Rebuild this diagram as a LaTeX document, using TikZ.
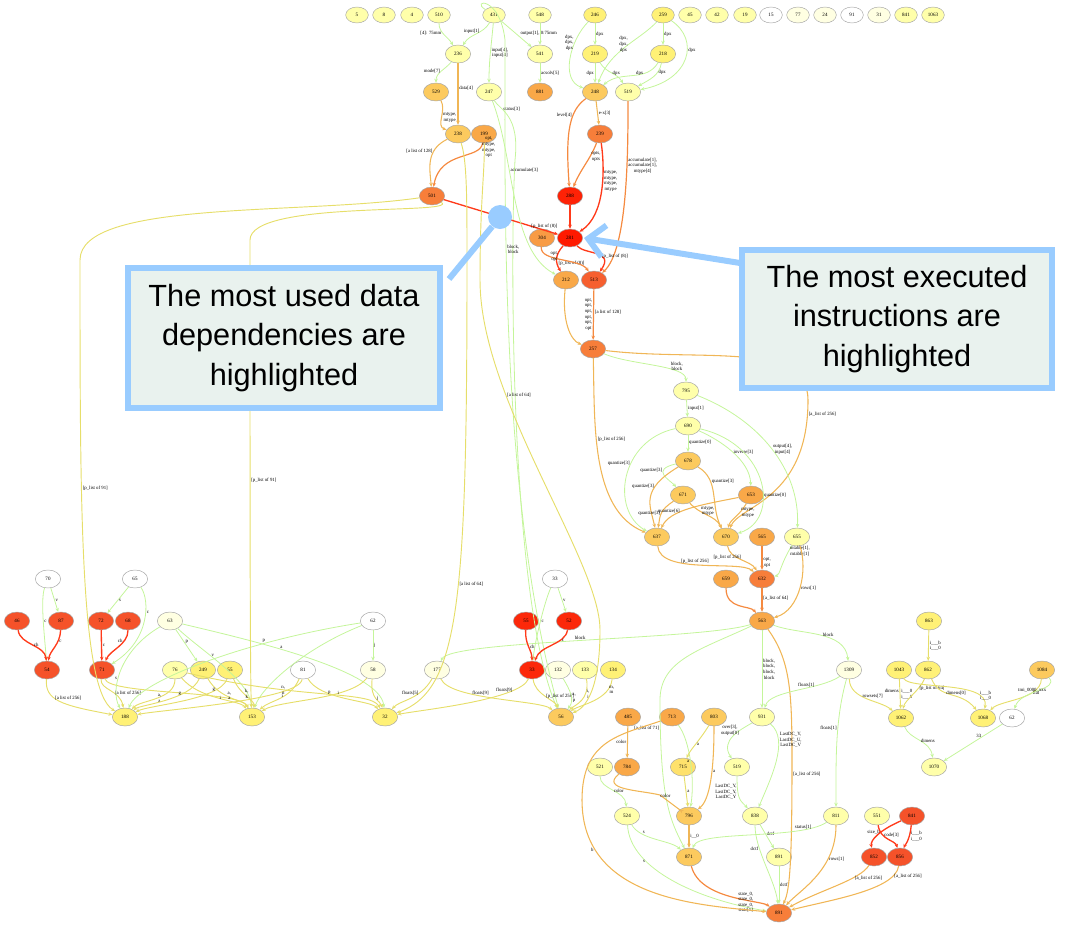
\documentclass[tikz,border=0pt]{standalone}
\usepackage{fontspec}
\setmainfont{Liberation Serif}
\newfontfamily\callfont{Liberation Sans}
\usetikzlibrary{shapes.geometric,arrows.meta}
\definecolor{cW}{HTML}{FFFFFF}
\definecolor{cV}{HTML}{FFFFE2}
\definecolor{cL}{HTML}{FFFFAA}
\definecolor{cY}{HTML}{FFF176}
\definecolor{cA}{HTML}{FCCA5E}
\definecolor{cO}{HTML}{F9A848}
\definecolor{cP}{HTML}{F77E3A}
\definecolor{cR}{HTML}{F5522A}
\definecolor{cX}{HTML}{FF1A00}
\definecolor{eG}{HTML}{C4F59A}
\definecolor{eY}{HTML}{E6DE6A}
\definecolor{eO}{HTML}{F0B656}
\definecolor{eP}{HTML}{F58A40}
\definecolor{eR}{HTML}{FF3A1A}
\definecolor{callB}{HTML}{99CCFF}
\definecolor{callF}{HTML}{E9F2EE}
\tikzset{
  nd/.style={ellipse, draw=black!35, line width=0.35pt, minimum width=19pt, minimum height=13.5pt, inner sep=0pt, font=\fontsize{3.8}{4}\selectfont},
  sm/.style={nd, minimum width=17pt, minimum height=12pt},
  tip/.style={-{Stealth[length=3pt,width=2.6pt]}},
  eg/.style={draw=eG, line width=0.6pt, tip},
  ey/.style={draw=eY, line width=0.7pt, tip},
  eo/.style={draw=eO, line width=0.8pt, tip},
  ep/.style={draw=eP, line width=0.9pt, tip},
  er/.style={draw=eR, line width=1pt, tip},
  el/.style={font=\fontsize{3.6}{4.2}\selectfont, align=center, inner sep=0.6pt},
  callbox/.style={draw=callB, line width=4.5pt, fill=callF, align=center, font=\callfont\fontsize{23}{29.5}\selectfont},
  callline/.style={draw=callB, line width=4.5pt}
}
\begin{document}
\begin{tikzpicture}[x=0.75pt,y=-0.75pt]
\useasboundingbox (0,0) rectangle (1073,925);
% ---------- top row ----------
\node[sm,fill=cL] (t5) at (357,15) {5};
\node[sm,fill=cL] (t8) at (384,15) {8};
\node[sm,fill=cL] (t4) at (412,15) {4};
\node[sm,fill=cL] (t510) at (439,15) {510};
\node[sm,fill=cL] (t431) at (494,15) {431};
\node[sm,fill=cL] (t548) at (540,15) {548};
\node[sm,fill=cY] (t246) at (595,15) {246};
\node[sm,fill=cY] (t259) at (663,15) {259};
\node[sm,fill=cL] (t45) at (690,15) {45};
\node[sm,fill=cL] (t42) at (717,15) {42};
\node[sm,fill=cL] (t19) at (745,15) {19};
\node[sm,fill=cW] (t15) at (771,15) {15};
\node[sm,fill=cV] (t77) at (798,15) {77};
\node[sm,fill=cV] (t24) at (825,15) {24};
\node[sm,fill=cW] (t91) at (852,15) {91};
\node[sm,fill=cV] (t31) at (879,15) {31};
\node[sm,fill=cL] (t841) at (906,15) {841};
\node[sm,fill=cL] (t1063) at (933,15) {1063};
% ---------- upper middle ----------
\node[nd,fill=cL] (n236) at (458,54) {236};
\node[nd,fill=cL] (n541) at (540,54) {541};
\node[nd,fill=cY] (n219) at (595,54) {219};
\node[nd,fill=cY] (n218) at (663,54) {218};
\node[nd,fill=cA] (n529) at (436,92) {529};
\node[nd,fill=cL] (n247) at (489,92) {247};
\node[nd,fill=cO] (n881) at (540,92) {881};
\node[nd,fill=cA] (n248) at (595,92) {248};
\node[nd,fill=cL] (n519) at (628,92) {519};
\node[nd,fill=cA] (n238) at (458,134) {238};
\node[nd,fill=cO] (n199) at (484,134) {199};
\node[nd,fill=cP] (n239) at (600,134) {239};
\node[nd,fill=cP] (n501) at (432,196) {501};
\node[nd,fill=cX!85!cR] (n288) at (570,196) {288};
\node[nd,fill=cO!70!cP] (n304) at (542,238) {304};
\node[nd,fill=cX] (n281) at (570,238) {281};
\node[nd,fill=cO] (n212) at (566,280) {212};
\node[nd,fill=cR!70!cP] (n513) at (594,280) {513};
\node[nd,fill=cP] (n257) at (593,349) {257};
\node[nd,fill=cL] (n795) at (686,391) {795};
\node[nd,fill=cL] (n690) at (688,426) {690};
\node[nd,fill=cA] (n678) at (688,461) {678};
\node[nd,fill=cA] (n671) at (683,495) {671};
\node[nd,fill=cO] (n653) at (751,495) {653};
\node[nd,fill=cA] (n637) at (657,537) {637};
\node[nd,fill=cA] (n670) at (726,537) {670};
\node[nd,fill=cO] (n565) at (762,537) {565};
\node[nd,fill=cL] (n655) at (797,537) {655};
\node[nd,fill=cO] (n659) at (726,579) {659};
\node[nd,fill=cP] (n632) at (762,579) {632};
\node[nd,fill=cO] (n563) at (762,621) {563};
% ---------- lower left ----------
\node[nd,fill=cW] (n70) at (48,579) {70};
\node[nd,fill=cW] (n65) at (135,579) {65};
\node[nd,fill=cR] (n46) at (17,621) {46};
\node[nd,fill=cR] (n87) at (61,621) {87};
\node[nd,fill=cR] (n72) at (101,621) {72};
\node[nd,fill=cR] (n68) at (128,621) {68};
\node[nd,fill=cV] (n63) at (170,621) {63};
\node[nd,fill=cW] (n62a) at (373,621) {62};
\node[nd,fill=cR] (n54) at (47,670) {54};
\node[nd,fill=cR] (n71) at (102,670) {71};
\node[nd,fill=cL] (n76) at (175,670) {76};
\node[nd,fill=cY] (n249) at (203,670) {249};
\node[nd,fill=cY] (n55a) at (230,670) {55};
\node[nd,fill=cW] (n81) at (303,670) {81};
\node[nd,fill=cV] (n58) at (373,670) {58};
\node[nd,fill=cV] (n177) at (437,670) {177};
\node[nd,fill=cW] (n33a) at (555,579) {33};
\node[nd,fill=cX!75!cR] (n55b) at (526,621) {55};
\node[nd,fill=cX!75!cR] (n52) at (569,621) {52};
\node[nd,fill=cX!75!cR] (n33b) at (532,670) {33};
\node[nd,fill=cV] (n132) at (558,670) {132};
\node[nd,fill=cL] (n133) at (585,670) {133};
\node[nd,fill=cY] (n134) at (613,670) {134};
\node[nd,fill=cY] (n188) at (125,717) {188};
\node[nd,fill=cY] (n153) at (252,717) {153};
\node[nd,fill=cY] (n32) at (385,717) {32};
\node[nd,fill=cA] (n56) at (561,717) {56};
% ---------- lower right ----------
\node[nd,fill=cO] (n485) at (628,717) {485};
\node[nd,fill=cO] (n713) at (672,717) {713};
\node[nd,fill=cA] (n803) at (714,717) {803};
\node[nd,fill=cL] (n931) at (762,717) {931};
\node[nd,fill=cL] (n521) at (600,767) {521};
\node[nd,fill=cO] (n784) at (627,767) {784};
\node[nd,fill=cY!60!cA] (n715) at (683,767) {715};
\node[nd,fill=cL] (n519b) at (737,767) {519};
\node[nd,fill=cL] (n524) at (627,816) {524};
\node[nd,fill=cA] (n796) at (689,816) {796};
\node[nd,fill=cL] (n838) at (755,816) {838};
\node[nd,fill=cL] (n811) at (836,816) {811};
\node[nd,fill=cL] (n551) at (877,816) {551};
\node[nd,fill=cR] (n841) at (912,816) {841};
\node[nd,fill=cA] (n871) at (689,857) {871};
\node[nd,fill=cL] (n891a) at (779,857) {891};
\node[nd,fill=cR] (n852) at (874,857) {852};
\node[nd,fill=cR] (n856) at (900,857) {856};
\node[nd,fill=cP] (n891b) at (779,913) {891};
\node[nd,fill=cY] (n863) at (929,621) {863};
\node[nd,fill=cV] (n1309) at (849,670) {1309};
\node[nd,fill=cY] (n1043) at (899,670) {1043};
\node[nd,fill=cY] (n862) at (928,670) {862};
\node[nd,fill=cA] (n1084) at (1042,670) {1084};
\node[nd,fill=cY] (n1062) at (901,718) {1062};
\node[nd,fill=cY] (n1068) at (983,718) {1068};
\node[nd,fill=cW] (n62b) at (1012,718) {62};
\node[nd,fill=cL] (n1070) at (934,767) {1070};
% ---------- edges: top ----------
\draw[eg] (t510) to[out=-90,in=120] node[el,pos=0.4,left]{[4]: 75mm} (n236);
\draw[eg] (t431) to[out=-120,in=60] node[el,pos=0.35,left]{input[1]} (n236);
\draw[eg] (t431) to[out=-95,in=90] node[el,pos=0.5,right]{input[4],\\input[4]} (n247);
\draw[eg] (t431) to[out=-40,in=140] node[el,pos=0.6,above right]{output[1], 0:75mm} (n541);
\draw[eg] (t548) -- (n541);
\draw[eg] (t246) -- node[el,right]{dpx} (n219);
\draw[eg] (t246) .. controls (570,40) and (560,80) .. node[el,pos=0.3,left]{dpx,\\dpx,\\dpx} (n248);
\draw[eg] (t259) .. controls (640,40) and (610,50) .. node[el,pos=0.45,left]{dpx,\\dpx,\\dpx} (n248);
\draw[eg] (t259) -- node[el,right]{dpx} (n218);
\draw[eg] (t259) .. controls (700,40) and (690,80) .. node[el,pos=0.4,right]{dpx} (n519);
\draw[eg] (n219) -- node[el,pos=0.5,left]{dpx} (n248);
\draw[eg] (n219) to[out=-60,in=120] node[el,pos=0.5,right]{dpx} (n519);
\draw[eg] (n218) to[out=-120,in=40] node[el,pos=0.3,left]{dpx} (n248);
\draw[eg] (n218) to[out=-100,in=30] node[el,pos=0.3,right]{dpx} (n519);
\draw[eg] (n236) to[out=-130,in=90] node[el,pos=0.5,left]{mode[7]} (n529);
\draw[eo] (n236) -- node[el,pos=0.4,right]{data[4]} (n238);
\draw[eo] (n529) to[out=-60,in=160] node[el,pos=0.5,right]{mtype,\\mtype} (n238);
\draw[eg] (n541) -- node[el,right]{acsolv[5]} (n881);
\draw[eg] (n247) .. controls (500,110) and (520,115) .. node[el,pos=0.3,right]{status[3]} (515,160) .. controls (510,250) and (510,600) .. (n56);
\draw[eg] (t431) .. controls (470,0) and (500,-5) .. (505,40) .. controls (505,200) and (500,500) .. node[el,pos=0.35,right]{block,\\block} (n56);
\draw[eo] (n238) .. controls (425,150) and (430,170) .. node[el,pos=0.3,left]{[a list of 128]} (n501);
\draw[ep] (n199) .. controls (480,160) and (440,150) .. node[el,pos=0.1,right]{opt,\\mtype,\\mtype,\\opt} (n501);
\draw[ep] (n248) .. controls (570,110) and (565,130) .. node[el,pos=0.35,left]{level[4]} (n288);
\draw[eo] (n248) -- node[el,pos=0.5,right]{e-x[3]} (n239);
\draw[ep] (n239) .. controls (590,160) and (580,170) .. node[el,pos=0.3,right]{opts,\\opts} (n288);
\draw[er] (n239) .. controls (605,170) and (605,215) .. node[el,pos=0.4,right]{mtype,\\mtype,\\mtype,\\mtype} (n281);
\draw[er] (n288) -- (n281);
\draw[ep] (n519) .. controls (628,150) and (628,250) .. node[el,pos=0.35,right]{accumulate[1],\\accumulate[1],\\mtype[4]} (n513);
\draw[er] (n501) -- node[el,pos=0.88,above]{[p\_list of (8)]} (n281);
\draw[eg] (n247) .. controls (515,160) and (510,250) .. node[el,pos=0.35,right]{accumulate[3]} (n212);
\draw[er] (n281) .. controls (585,255) and (615,250) .. node[el,pos=0.6,right]{[p\_list of (8)]} (n513);
\draw[er] (n281) .. controls (555,255) and (555,262) .. node[el,pos=0.7,right]{[p\_list of (8)]} (n212);
\draw[ep] (n304) .. controls (540,262) and (580,258) .. node[el,pos=0.3,right]{opt,\\opt} (n513);
\draw[eo] (n212) .. controls (562,320) and (570,340) .. (n257);
\draw[ep] (n513) -- node[el,pos=0.5,left]{opt,\\opt,\\opt,\\opt,\\opt,\\opt} node[el,pos=0.45,right]{[a list of 128]} (n257);
% ---------- middle cluster ----------
\draw[eg] (n257) .. controls (630,365) and (686,365) .. node[el,pos=0.75,above]{block,\\block} (n795);
\draw[eo] (n257) .. controls (595,420) and (590,510) .. node[el,pos=0.4,right]{[p\_list of 256]} (n637);
\draw[eo] (n257) .. controls (700,362) and (808,340) .. (808,400) .. controls (808,500) and (740,505) .. node[el,pos=0.05,right]{[a\_list of 256]} (n670);
\draw[eg] (n795) -- node[el,right]{input[1]} (n690);
\draw[eg] (n795) .. controls (760,420) and (800,470) .. node[el,pos=0.5,right]{output[4],\\input[4]} (n655);
\draw[eg] (n690) -- node[el,pos=0.4,right]{quantize[0]} (n678);
\draw[eg] (n690) .. controls (620,440) and (610,510) .. node[el,pos=0.4,left]{quantize[3]} (n637);
\draw[eg] (n690) .. controls (720,440) and (750,460) .. node[el,pos=0.5,right]{inverse[3]} (n653);
\draw[eg] (n690) .. controls (770,445) and (780,520) .. node[el,pos=0.6,right]{quantize[0]} (n670);
\draw[eg] (n678) .. controls (650,470) and (670,480) .. node[el,pos=0.3,left]{quantize[3]} (n671);
\draw[eo] (n678) .. controls (640,490) and (650,505) .. node[el,pos=0.3,left]{quantize[3]} (n637);
\draw[eo] (n678) .. controls (720,480) and (710,505) .. node[el,pos=0.3,right]{quantize[3]} (n670);
\draw[eo] (n671) .. controls (660,510) and (660,515) .. node[el,pos=0.5,left]{quantize[3]} (n637);
\draw[eo] (n671) .. controls (700,515) and (715,515) .. node[el,pos=0.3,right]{mtype,\\mtype} (n670);
\draw[eo] (n653) .. controls (740,515) and (730,520) .. node[el,pos=0.3,right]{mtype,\\mtype} (n670);
\draw[eo] (n653) .. controls (700,505) and (670,510) .. node[el,pos=0.6,left]{quantize[6]} (n637);
\draw[eo] (n637) .. controls (660,575) and (740,560) .. node[el,pos=0.45,above]{[p\_list of 256]} (n632);
\draw[eo] (n670) .. controls (730,560) and (750,560) .. node[el,pos=0.55,above left]{[p\_list of 256]} (n632);
\draw[ep] (n565) -- node[el,pos=0.7,right]{opt,\\opt} (n632);
\draw[eg] (n655) .. controls (780,565) and (780,575) .. node[el,pos=0.1,right]{mtable[1],\\mtable[1]} (n632);
\draw[eo] (n655) .. controls (808,570) and (800,610) .. node[el,pos=0.5,right]{rows[1]} (n563);
\draw[ep] (n659) .. controls (726,610) and (750,605) .. (n563);
\draw[ep] (n632) -- node[el,pos=0.4,right]{[a\_list of 64]} (n563);
% ---------- lower right ----------
\draw[eg] (n563) -- node[el,pos=0.5,right]{block,\\block,\\block,\\block} (n931);
\draw[eg] (n563) .. controls (800,635) and (845,630) .. node[el,pos=0.6,above]{block} (n1309);
\draw[eo] (n563) .. controls (790,660) and (792,690) .. (792,760) .. controls (792,860) and (790,890) .. node[el,pos=0.05,right]{[a\_list of 256]} (n891b);
\draw[eg] (n563) .. controls (700,640) and (450,640) .. node[el,pos=0.5,above]{block} (n177);
\draw[eg] (n563) .. controls (700,650) and (660,660) .. (660,700) .. controls (660,800) and (670,820) .. node[el,pos=0.1,left]{[a\_list of 71]} (n871);
\draw[eg] (n1309) .. controls (820,690) and (770,690) .. node[el,pos=0.4,above]{floats[1]} (n931);
\draw[ey] (n1309) .. controls (850,700) and (880,700) .. node[el,pos=0.4,right]{rowsets[7]} (n1062);
\draw[eg] (n1309) .. controls (835,720) and (836,760) .. node[el,pos=0.4,left]{floats[1]} (n811);
\draw[ey] (n863) -- node[el,right]{i\_\_\_b\\i\_\_\_0} (n862);
\draw[ey] (n1043) -- node[el,right]{i\_\_\_0\\i\_\_\_0} node[el,pos=0.4,left]{dimens} (n1062);
\draw[ey] (n862) .. controls (920,690) and (905,700) .. node[el,pos=0.3,right]{[p\_list of 64]} (n1062);
\draw[ey] (n862) .. controls (940,700) and (960,690) .. node[el,pos=0.6,above]{dimens[0]} (n1068);
\draw[ey] (n1043) .. controls (910,690) and (990,680) .. node[el,pos=0.8,right]{i\_\_\_b\\i\_\_\_0} (n1068);
\draw[ey] (n1084) .. controls (1040,700) and (1000,700) .. node[el,pos=0.3,right]{flat} (n1068);
\draw[eg] (n1084) .. controls (1060,690) and (1020,690) .. node[el,pos=0.6,above]{tmi\_0000\_xxx} (n62b);
\draw[eg] (n1062) .. controls (910,740) and (930,740) .. node[el,pos=0.5,right]{dimens} (n1070);
\draw[eg] (n62b) -- node[el,pos=0.4,above]{33} (n1070);
\draw[eg] (n931) .. controls (740,730) and (720,740) .. node[el,pos=0.3,left]{over[3],\\output[0]} (n519b);
\draw[eg] (n931) .. controls (790,740) and (770,780) .. node[el,pos=0.25,right]{LastDC\_Y,\\LastDC\_U,\\LastDC\_V} (n838);
\draw[eg] (n519b) .. controls (737,800) and (740,800) .. node[el,pos=0.3,left]{LastDC\_Y,\\LastDC\_Y,\\LastDC\_Y} (n838);
\draw[eg] (n838) -- node[el,pos=0.4,right]{dctf} (n891a);
\draw[eg] (n838) .. controls (755,850) and (775,880) .. node[el,pos=0.3,left]{dctf} (n891b);
\draw[eg] (n891a) -- node[el,right]{dctf} (n891b);
\draw[eo] (n811) .. controls (836,870) and (800,890) .. node[el,pos=0.3,right]{rows[1]} (n891b);
\draw[eg] (n811) .. controls (800,840) and (700,830) .. node[el,pos=0.2,above]{status[1]} (n871);
\draw[eo] (n485) -- node[el,left]{color} (n784);
\draw[eg] (n713) .. controls (690,740) and (695,780) .. node[el,pos=0.5,left]{a} (n796);
\draw[ey] (n803) .. controls (700,740) and (690,750) .. node[el,pos=0.5,right]{a} (n715);
\draw[eo] (n803) .. controls (714,770) and (710,800) .. node[el,pos=0.4,right]{a} (n796);
\draw[ey] (n715) -- node[el,right]{a} (n796);
\draw[eo] (n784) .. controls (600,790) and (640,790) .. (660,795) .. controls (680,810) .. node[el,pos=0.1,above]{color} (n796);
\draw[eg] (n521) .. controls (600,790) and (625,790) .. node[el,pos=0.5,right]{color} (n524);
\draw[eg] (n524) .. controls (640,840) and (670,840) .. node[el,pos=0.3,above]{s} (n871);
\draw[eg] (n524) .. controls (630,870) and (700,900) .. node[el,pos=0.3,left]{s} (n891b);
\draw[eo] (n796) -- node[el,right]{i\_\_0} (n871);
\draw[ep] (n871) .. controls (700,900) and (760,900) .. node[el,pos=0.75,left]{state\_0,\\state\_0,\\state\_0,\\state[1]} (n891b);
\draw[eo] (n713) .. controls (620,735) and (582,740) .. (582,800) .. controls (582,900) and (700,905) .. node[el,pos=0.2,left]{b} (n891b);
\draw[er] (n841) .. controls (880,830) and (870,840) .. node[el,pos=0.4,left]{size\_b} (n852);
\draw[er] (n841) .. controls (910,840) and (905,845) .. node[el,pos=0.3,right]{i\_\_\_b\\i\_\_\_0} (n856);
\draw[er] (n551) .. controls (880,840) and (895,840) .. node[el,pos=0.3,right]{code[3]} (n856);
\draw[eo] (n852) .. controls (860,880) and (820,890) .. node[el,pos=0.3,right]{[a\_list of 256]} (n891b);
\draw[eo] (n856) .. controls (895,890) and (830,900) .. node[el,pos=0.15,right]{[a\_list of 256]} (n891b);
% ---------- lower left ----------
\draw[eg] (n70) -- node[el,right]{v} (n87);
\draw[eg] (n70) .. controls (40,600) and (45,640) .. node[el,pos=0.5,right]{c} (n54);
\draw[er] (n46) .. controls (20,645) and (45,645) .. node[el,pos=0.5,right]{ch} (n54);
\draw[er] (n87) .. controls (60,645) and (50,650) .. node[el,pos=0.3,right]{c} (n54);
\draw[eg] (n65) -- node[el,right]{s} (n72);
\draw[eg] (n65) .. controls (150,600) and (150,640) .. node[el,pos=0.4,right]{c} (n71);
\draw[er] (n72) -- node[el,right]{c} (n71);
\draw[er] (n68) .. controls (128,645) and (110,650) .. node[el,pos=0.3,left]{ch} (n71);
\draw[eg] (n33a) .. controls (545,600) and (535,640) .. node[el,pos=0.5,right]{c} (n33b);
\draw[eg] (n33a) -- node[el,right]{v} (n52);
\draw[er] (n55b) .. controls (525,645) and (532,650) .. node[el,pos=0.5,right]{ch} (n33b);
\draw[er] (n52) .. controls (565,645) and (540,645) .. node[el,pos=0.3,right]{c} (n33b);
\draw[ey] (n54) .. controls (45,700) and (60,705) .. node[el,pos=0.4,right]{[a list of 256]} (n188);
\draw[ey] (n71) .. controls (100,690) and (120,690) .. node[el,pos=0.6,right]{[a list of 256]} (n188);
\draw[ey] (n71) .. controls (110,695) and (240,690) .. (n153);
\draw[eg] (n63) -- node[el,pos=0.4,right]{p} (n249);
\draw[eg] (n63) .. controls (120,650) and (110,690) .. node[el,pos=0.6,left]{s} (n188);
\draw[eg] (n63) .. controls (200,650) and (250,680) .. node[el,pos=0.4,above]{v} (n153);
\draw[eg] (n63) .. controls (250,640) and (380,670) .. node[el,pos=0.4,above]{a} (n32);
\draw[eg] (n62a) -- node[el,right]{j} (n58);
\draw[eg] (n62a) .. controls (250,640) and (140,680) .. node[el,pos=0.3,above]{p} (n188);
\draw[eg] (n62a) .. controls (300,650) and (260,690) .. (n153);
\draw[ey] (n76) .. controls (175,700) and (140,700) .. node[el,pos=0.5,right]{a,\\a} (n188);
\draw[ey] (n76) .. controls (200,700) and (240,700) .. node[el,pos=0.5,right]{i} (n153);
\draw[ey] (n76) .. controls (300,700) and (370,690) .. (n32);
\draw[ey] (n249) .. controls (190,700) and (140,705) .. node[el,pos=0.3,left]{g} (n188);
\draw[ey] (n249) .. controls (220,700) and (245,700) .. node[el,pos=0.4,right]{a,\\a} (n153);
\draw[ey] (n55a) .. controls (220,700) and (150,705) .. node[el,pos=0.2,left]{g} (n188);
\draw[ey] (n55a) .. controls (240,695) and (255,700) .. node[el,pos=0.4,right]{k,\\k} (n153);
\draw[ey] (n81) .. controls (290,700) and (270,700) .. node[el,pos=0.4,left]{i} (n153);
\draw[ey] (n81) .. controls (300,700) and (160,710) .. node[el,pos=0.2,left]{n,\\n} (n188);
\draw[ey] (n81) .. controls (320,700) and (370,700) .. node[el,pos=0.3,right]{p} (n32);
\draw[ey] (n58) .. controls (370,700) and (380,700) .. node[el,pos=0.5,right]{j} (n32);
\draw[ey] (n58) .. controls (350,700) and (280,700) .. node[el,pos=0.3,left]{i} (n153);
\draw[ey] (n177) .. controls (420,700) and (400,700) .. node[el,pos=0.3,left]{floats[5]} (n32);
\draw[ey] (n177) .. controls (450,700) and (540,700) .. node[el,pos=0.4,above]{floats[9]} (n56);
\draw[ey] (n33b) .. controls (520,700) and (420,710) .. node[el,pos=0.2,left]{floats[9]} (n32);
\draw[ey] (n33b) .. controls (535,695) and (555,700) .. node[el,pos=0.5,right]{[p\_list of 256]} (n56);
\draw[eg] (n132) .. controls (570,690) and (575,700) .. node[el,pos=0.6,right]{a,\\p} (n56);
\draw[ey] (n133) .. controls (590,700) and (575,705) .. node[el,pos=0.3,right]{i,\\i} (n56);
\draw[ey] (n134) .. controls (610,700) and (580,705) .. node[el,pos=0.2,right]{m,\\m} (n56);
\draw[ey] (n501) .. controls (300,215) and (80,200) .. (80,260) .. controls (80,500) and (80,690) .. node[el,pos=0.35,right]{[p\_list of 91]} (n188);
\draw[ey] (n501) .. controls (460,215) and (250,200) .. (250,240) .. controls (250,500) and (250,680) .. node[el,pos=0.35,right]{[p\_list of 91]} (n153);
\draw[ey] (n238) .. controls (467,160) and (467,200) .. (467,260) .. controls (467,600) and (460,690) .. node[el,pos=0.45,right]{[a list of 64]} (n32);
\draw[ey] (n199) .. controls (485,170) and (480,200) .. (480,280) .. controls (480,400) and (600,560) .. node[el,pos=0.3,right]{[a list of 64]} (600,630) .. controls (600,700) and (580,710) .. (n56);
% ---------- call-outs ----------
\node[circle, fill=callB, minimum size=18pt, inner sep=0pt] (dot) at (500,217) {};
\node[callbox, minimum width=234pt, minimum height=105pt] (cb1) at (284,338) {The most used data\\dependencies are\\highlighted};
\node[callbox, minimum width=232pt, minimum height=103pt] (cb2) at (897,319) {The most executed\\instructions are\\highlighted};
\coordinate (cl1) at (449,279);
\coordinate (cr1) at (740,263);
\coordinate (cr2) at (584,238);
\draw[callline] (cl1) -- (dot);
\draw[callline,-{Straight Barb[length=12pt,width=24pt]}] (cr1) -- (cr2);
\end{tikzpicture}
\end{document}
